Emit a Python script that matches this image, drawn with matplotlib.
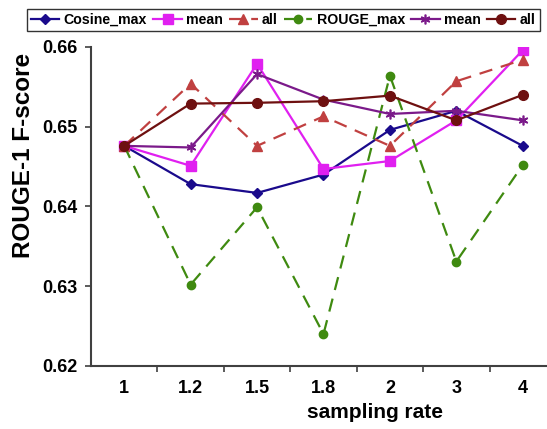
import matplotlib
matplotlib.use("Agg")
import matplotlib.pyplot as plt
from matplotlib.ticker import FixedLocator, FixedFormatter

plt.rcParams['font.family'] = ['Liberation Sans', 'DejaVu Sans']
plt.rcParams['font.weight'] = 'bold'

rates = ["1", "1.2", "1.5", "1.8", "2", "3", "4"]

cosine_max = [0.6476, 0.6428, 0.6417, 0.6440, 0.6496, 0.6520, 0.6476]
cosine_mean = [0.6476, 0.6451, 0.6579, 0.6447, 0.6457, 0.6508, 0.6596]
cosine_all = [0.6476, 0.6554, 0.6476, 0.6513, 0.6476, 0.6557, 0.6584]
rouge_max = [0.6476, 0.6302, 0.6399, 0.6240, 0.6564, 0.6331, 0.6452]
rouge_mean = [0.6476, 0.6474, 0.6566, 0.6534, 0.6516, 0.6520, 0.6508]
rouge_all = [0.6476, 0.6529, 0.6530, 0.6532, 0.6539, 0.6508, 0.6540]

fig = plt.figure(figsize=(5.47, 4.29), dpi=100)
ax = fig.add_axes([0.1664, 0.1469, 0.85, 0.7436])

x = list(range(len(rates)))
ax.plot(x, cosine_max, color="#1a0a8c", lw=1.6, marker="D", ms=5, label="Cosine_max")
ax.plot(x, cosine_mean, color="#e020f0", lw=1.6, marker="s", ms=7, label="mean")
ax.plot(x, cosine_all, color="#c04040", lw=1.6, ls=(0, (6, 4)), marker="^", ms=7, label="all")
ax.plot(x, rouge_max, color="#3f8a10", lw=1.6, ls=(0, (6, 4)), marker="o", ms=6, label="ROUGE_max")
ax.plot(x, rouge_mean, color="#7b1a8a", lw=1.6, marker=(6, 2, 0), ms=7, mew=1.2, label="mean")
ax.plot(x, rouge_all, color="#6e1010", lw=1.6, marker="o", ms=7, label="all")

ax.set_xlim(-0.5, len(rates) - 0.5)
ax.set_ylim(0.62, 0.66)
ax.set_yticks([0.62, 0.63, 0.64, 0.65, 0.66])
ax.set_yticklabels(["0.62", "0.63", "0.64", "0.65", "0.66"])
ax.xaxis.set_major_locator(FixedLocator(x))
ax.xaxis.set_major_formatter(FixedFormatter(rates))
ax.xaxis.set_minor_locator(FixedLocator([i + 0.5 for i in x]))
ax.tick_params(axis="x", which="major", length=0, pad=10, labelsize=13)
ax.tick_params(axis="x", which="minor", length=4, width=1.2, color="#404040")
ax.tick_params(axis="y", length=4, width=1.2, color="#404040", pad=6, labelsize=13)

for s in ["top", "right"]:
    ax.spines[s].set_visible(False)
for s in ["left", "bottom"]:
    ax.spines[s].set_color("#404040")
    ax.spines[s].set_linewidth(1.5)

ax.set_xlabel("sampling rate", fontsize=15, fontweight="bold", va="center")
ax.xaxis.set_label_coords(0.611, -0.145)
ax.set_ylabel("ROUGE-1 F-score", fontsize=17.5, fontweight="bold", va="center")
ax.yaxis.set_label_coords(-0.145, 0.661)

leg = fig.legend(loc="upper left", bbox_to_anchor=(0.049, 0.980), ncol=6,
                 fontsize=10.2, frameon=True, fancybox=False, edgecolor="black",
                 handlelength=2.0, handletextpad=0.3, columnspacing=0.45,
                 borderpad=0.3, borderaxespad=0)
leg.get_frame().set_linewidth(1.0)

fig.savefig("out.png", dpi=100)
